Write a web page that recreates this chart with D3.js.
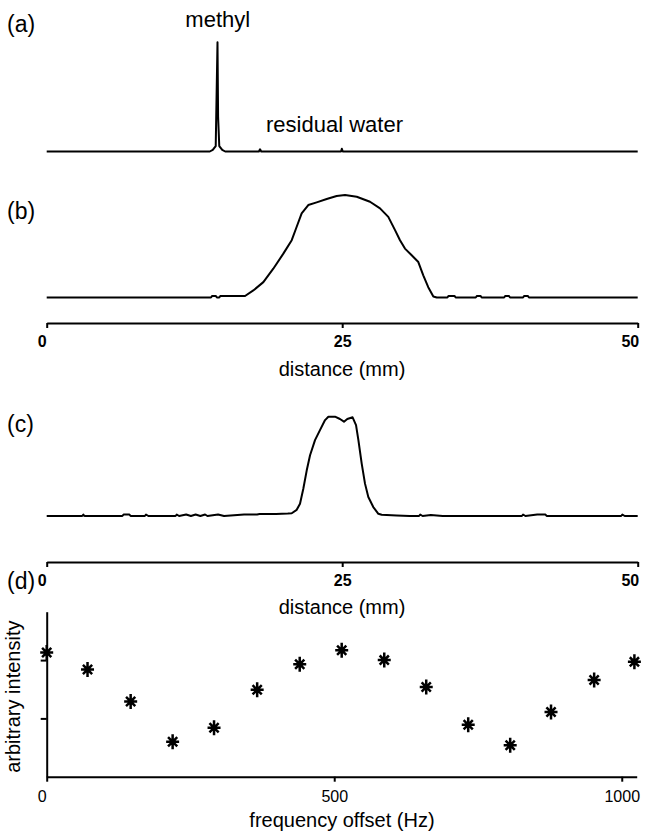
<!DOCTYPE html>
<html>
<head>
<meta charset="utf-8">
<script src="https://cdn.jsdelivr.net/npm/d3@7"></script>
<style>
  body { margin: 0; background: #fff; }
  text { font-family: "Liberation Sans", Arial, sans-serif; fill: #000; }
</style>
</head>
<body>
<div id="my_dataviz"></div>
<script>
// (a) spectrum: [distance mm, intensity %]
var spectrumA = [
  [0, 0], [13.8, 0], [14.05, 1.5], [14.3, 5], [14.45, 100], [14.5, 32], [14.6, 5],
  [14.85, 1.5], [15.1, 0], [17.95, 0], [18.05, 2], [18.15, 0],
  [24.9, 0], [24.97, 2.5], [25.05, 0], [50, 0]
];

// (b) profile
var profileB = [
  [0, 0], [13.9, 0], [14.0, 1.5], [14.3, 1.5], [14.4, 0], [14.6, 0], [14.7, 1.5],
  [16.78, 1.5], [17.48, 6.9], [18.33, 15], [19.17, 28.1], [20.02, 42.8], [20.73, 55.9],
  [21.15, 69], [21.57, 82], [22.13, 90.2], [22.84, 92.8], [23.69, 96.1], [24.53, 99],
  [25.24, 100], [26.23, 98.3], [27.35, 93.4], [28.2, 87], [28.9, 78.7], [29.47, 65.7],
  [29.89, 55.9], [30.31, 47.7], [30.88, 41.2], [31.44, 34.6], [31.86, 21.6], [32.28, 10.1],
  [32.71, 1], [33.0, 0], [33.9, 0], [34.0, 1.5], [34.5, 1.5], [34.6, 0], [36.3, 0],
  [36.4, 1.5], [36.7, 1.5], [36.8, 0], [38.7, 0], [38.8, 1.5], [39.1, 1.5], [39.2, 0],
  [40.3, 0], [40.4, 1.5], [40.7, 1.5], [40.8, 0], [50, 0]
];

// (c) profile
var profileC = [
  [0, 0], [3.0, 0], [3.1, 1.5], [3.2, 0], [6.4, 0], [6.5, 1.5], [7.0, 1.5], [7.1, 0],
  [8.3, 0], [8.4, 1.5], [8.6, 0], [10.9, 0], [11.0, 1.5], [11.2, 0], [11.8, 1.5],
  [12.2, 0], [12.6, 1.5], [13.0, 0], [13.4, 1.5], [13.6, 0], [14.5, 1.5], [15.0, 0],
  [16.7, 1.5], [17.8, 1.5], [18.0, 2], [19.4, 2], [20.4, 2.5], [20.73, 2.8],
  [21.15, 6.2], [21.43, 12.3], [21.71, 27.5], [22.0, 46], [22.28, 61.2], [22.7, 76.4],
  [23.12, 86.5], [23.55, 96.6], [23.83, 100], [24.39, 100], [24.81, 97.7], [25.15, 95],
  [25.43, 97.7], [25.88, 99.4], [26.17, 91.6], [26.37, 76.4], [26.65, 52.8], [26.93, 32.6],
  [27.21, 19.1], [27.63, 9], [28.06, 2.2], [28.34, 1.2], [29.61, 0.5], [30.7, 0],
  [31.5, 0], [31.6, 1.5], [31.8, 0], [32.5, 1], [33.5, 0], [40.2, 0], [40.3, 1.5],
  [40.5, 0], [41.5, 1.5], [42.2, 1.5], [42.3, 0], [48.6, 0], [48.7, 1.5], [48.9, 0], [50, 0]
];

// (d) frequency offset (Hz) vs arbitrary intensity
var freqOffsets = [0, 71, 146, 219, 291, 366, 440, 513, 587, 660, 733, 806, 877, 952, 1022];
var intensities = [2.13, 1.84, 1.29, 0.60, 0.84, 1.49, 1.93, 2.17, 2.00, 1.54, 0.89, 0.54, 1.11, 1.66, 1.97];

var distanceTicks = [0, 25, 50];
var freqTicks = [0, 500, 1000];

var width = 645, height = 836;

var svg = d3.select("#my_dataviz")
    .append("svg")
    .attr("width", width)
    .attr("height", height);

// shared distance scale
var x = d3.scaleLinear().domain([0, 50]).range([46.7, 637.7]);

var line = function(yScale) {
  return d3.line()
      .x(function(d) { return x(d[0]); })
      .y(function(d) { return yScale(d[1]); });
};

function drawTrace(data, yScale) {
  svg.append("path")
      .datum(data)
      .attr("fill", "none")
      .attr("stroke", "#000")
      .attr("stroke-width", 2)
      .attr("stroke-linejoin", "round")
      .attr("d", line(yScale));
}

function panelLabel(txt, yPos) {
  svg.append("text")
      .attr("x", 7)
      .attr("y", yPos)
      .style("font-size", "23px")
      .text(txt);
}

function styleAxis(g) {
  g.select(".domain").attr("stroke", "#000").attr("stroke-width", 2);
  g.selectAll(".tick line").attr("stroke", "#000").attr("stroke-width", 2);
  g.selectAll(".tick text")
      .attr("fill", "#000")
      .style("font-family", "'Liberation Sans', Arial, sans-serif")
      .style("font-size", "16px");
  // end labels sit a little to the left, as in the original
  g.selectAll(".tick text").filter(function(d, i, n) { return i === 0; }).attr("dx", -5);
  g.selectAll(".tick text").filter(function(d, i, n) { return i === n.length - 1 && n.length > 2 && d === 50; })
      .attr("text-anchor", "end").attr("dx", 1);
}

function distanceAxis(yPos, titleY) {
  var g = svg.append("g")
      .attr("transform", "translate(0," + yPos + ")")
      .call(d3.axisBottom(x).tickValues(distanceTicks).tickSize(5).tickSizeOuter(0).tickPadding(8)
        .tickFormat(d3.format("d")));
  styleAxis(g);
  g.selectAll(".tick text").style("font-weight", "bold");
  svg.append("text")
      .attr("x", 342)
      .attr("y", titleY)
      .attr("text-anchor", "middle")
      .style("font-size", "20px")
      .text("distance (mm)");
}

// (a)
var yA = d3.scaleLinear().domain([0, 100]).range([151.5, 42.3]);
drawTrace(spectrumA, yA);
panelLabel("(a)", 32);
svg.append("text")
    .attr("x", x(14.47))
    .attr("y", 27)
    .attr("text-anchor", "middle")
    .style("font-size", "22px")
    .text("methyl");
svg.append("text")
    .attr("x", 266)
    .attr("y", 132)
    .style("font-size", "22px")
    .text("residual water");

// (b)
var yB = d3.scaleLinear().domain([0, 100]).range([297.5, 195]);
drawTrace(profileB, yB);
panelLabel("(b)", 219);
distanceAxis(323, 376);

// (c)
var yC = d3.scaleLinear().domain([0, 100]).range([516, 416.7]);
drawTrace(profileC, yC);
panelLabel("(c)", 432);
distanceAxis(562, 614);

// (d)
panelLabel("(d)", 589);
var xD = d3.scaleLinear().domain([0, 1026]).range([46.7, 636.7]);
var yD = d3.scaleLinear().domain([0, 2.83]).range([776.7, 611.7]);

var gx = svg.append("g")
    .attr("transform", "translate(0," + yD(0) + ")")
    .call(d3.axisBottom(xD).tickValues(freqTicks).tickSize(5).tickSizeOuter(0).tickPadding(9)
      .tickFormat(d3.format("d")));
styleAxis(gx);

var gy = svg.append("g")
    .attr("transform", "translate(" + xD(0) + ",0)")
    .call(d3.axisLeft(yD).tickValues([1, 2]).tickSize(6).tickSizeOuter(0).tickFormat(""));
styleAxis(gy);

svg.append("text")
    .attr("x", 342)
    .attr("y", 827)
    .attr("text-anchor", "middle")
    .style("font-size", "20px")
    .text("frequency offset (Hz)");

svg.append("text")
    .attr("transform", "translate(20," + 696.7 + ")rotate(-90)")
    .attr("text-anchor", "middle")
    .style("font-size", "20px")
    .text("arbitrary intensity");

// asterisk markers
var star = "M0,-7.5V7.5M-6.5,0H6.5M-4.6,-4.6L4.6,4.6M-4.6,4.6L4.6,-4.6";
svg.selectAll(".star")
    .data(freqOffsets)
    .enter().append("path")
    .attr("class", "star")
    .attr("transform", function(d, i) { return "translate(" + xD(d) + "," + yD(intensities[i]) + ")"; })
    .attr("d", star)
    .attr("fill", "none")
    .attr("stroke", "#000")
    .attr("stroke-width", 2.5);
</script>
</body>
</html>
